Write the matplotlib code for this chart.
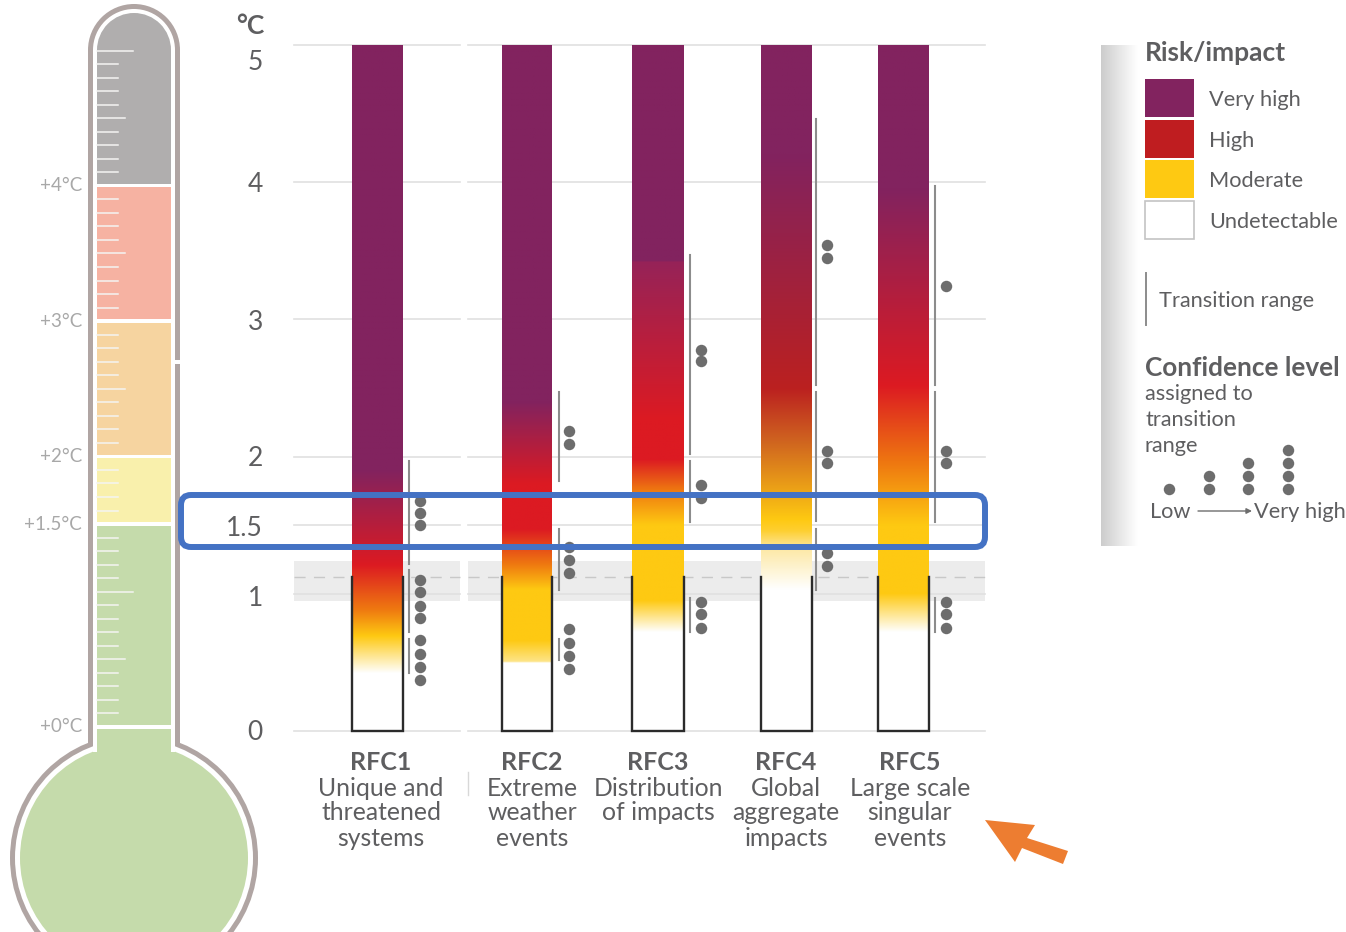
import numpy as np
import matplotlib
matplotlib.use('Agg')
import matplotlib.pyplot as plt
from matplotlib.colors import to_rgb
from matplotlib.patches import Circle, Rectangle, FancyBboxPatch, Polygon

plt.rcParams['font.family'] = ['Lato', 'DejaVu Sans']

W, H = 1346, 932
PURPLE = '#82235f'
RED = '#dc1a22'
ORANGE = '#ef7a10'
YELLOW = '#fec912'
TEXT = '#5e5e60'
DOT = '#6d6d6d'

# ----- data -----
rfc_names = ['RFC1', 'RFC2', 'RFC3', 'RFC4', 'RFC5']
rfc_lines = [['Unique and', 'threatened', 'systems'],
             ['Extreme', 'weather', 'events'],
             ['Distribution', 'of impacts'],
             ['Global', 'aggregate', 'impacts'],
             ['Large scale', 'singular', 'events']]
bar_left = [352, 502, 632, 761, 878]
bar_right = [403, 552, 684, 812, 929]
label_x = [381, 532, 658, 786, 910]
range_x = [409, 559, 690, 816, 935]
dot_x = [420, 569, 701, 827, 946]

# colour stops: temperature, colour
rfc1_t = [0.42, 0.69, 0.88, 1.21, 1.90, 5.0]
rfc1_c = ['#ffffff', YELLOW, ORANGE, RED, PURPLE, PURPLE]
rfc2_t = [0.50, 0.501, 0.66, 1.03, 1.21, 1.47, 1.80, 2.40, 5.0]
rfc2_c = ['#ffffff', '#fde58a', YELLOW, YELLOW, ORANGE, RED, RED, PURPLE, PURPLE]
rfc3_t = [0.72, 0.95, 1.50, 1.75, 1.98, 2.27, 3.42, 3.43, 5.0]
rfc3_c = ['#ffffff', YELLOW, YELLOW, ORANGE, RED, RED, '#962358', PURPLE, PURPLE]
rfc4_t = [1.03, 1.32, 1.46, 1.54, 2.10, 2.50, 4.20, 5.0]
rfc4_c = ['#ffffff', '#fde9a8', '#fecf30', YELLOW, '#d0661f', '#bb2020', PURPLE, PURPLE]
rfc5_t = [0.72, 1.00, 1.50, 1.94, 2.52, 3.95, 5.0]
rfc5_c = ['#ffffff', YELLOW, YELLOW, ORANGE, RED, PURPLE, PURPLE]
stops = [(rfc1_t, rfc1_c), (rfc2_t, rfc2_c), (rfc3_t, rfc3_c), (rfc4_t, rfc4_c), (rfc5_t, rfc5_c)]

# transition ranges (from, to) and confidence dots, in deg C
ranges = [[(1.22, 1.97), (0.72, 1.17), (0.42, 0.67)],
          [(1.82, 2.47), (1.03, 1.47), (0.52, 0.67)],
          [(2.02, 3.47), (1.52, 1.97), (0.72, 0.97)],
          [(2.52, 4.46), (1.53, 2.47), (1.03, 1.47)],
          [(2.52, 3.97), (1.52, 2.47), (0.72, 0.97)]]
dots = [[1.68, 1.59, 1.50, 1.10, 1.01, 0.91, 0.82, 0.66, 0.56, 0.47, 0.37],
        [2.19, 2.09, 1.34, 1.25, 1.15, 0.74, 0.64, 0.55, 0.45],
        [2.78, 2.70, 1.79, 1.70, 0.94, 0.85, 0.75],
        [3.54, 3.45, 2.04, 1.95, 1.30, 1.20],
        [3.24, 2.04, 1.95, 0.94, 0.85, 0.75]]

grid_levels = [0, 1, 1.5, 2, 3, 4, 5]
ytick_labels = ['0', '1', '1.5', '2', '3', '4', '5']
ytick_text_y = [733, 599, 528, 459, 322, 185, 63]

# thermometer, deg C
th_edges = [0, 1.5, 2, 3, 4, 5.6]
th_colors = ['#c5dbab', '#f9f0ac', '#f6d4a0', '#f6b2a2', '#b0aeae']
th_labels = ['+0°C', '+1.5°C', '+2°C', '+3°C', '+4°C']
th_long = [1.0, 5.0]
th_mid = [0.5, 2.5, 3.5, 4.5]
th_skip = [1.5, 2.0, 3.0, 4.0]

legend_names = ['Very high', 'High', 'Moderate', 'Undetectable']
legend_colors = ['#82235f', '#bf1d20', YELLOW, '#ffffff']
legend_dots = [1, 2, 3, 4]

# ----- axes -----
fig = plt.figure(figsize=(W / 100, H / 100), dpi=100)

# chart axes: x in pixels, y in deg C (0 at 731 px, 137.2 px per degree)
ax = fig.add_axes([0, 0, 1, 1], zorder=1)
# overlay in plain pixels for the thermometer outline, legend and text
px = fig.add_axes([0, 0, 1, 1], zorder=2)
# thermometer scale: 0 at 727 px, 135.3 px per degree
th = fig.add_axes([0, 0, 1, 1], zorder=3)
for a in (ax, px, th):
    a.axis('off')
    a.patch.set_alpha(0)

# ----- bars and grid -----
ax.axhspan(0.95, 1.24, xmin=294 / W, xmax=460 / W, color='#ececec', lw=0, zorder=0)
ax.axhspan(0.95, 1.24, xmin=468 / W, xmax=985 / W, color='#ececec', lw=0, zorder=0)
for segment in [(294, 460), (468, 985)]:
    for level in grid_levels:
        ax.plot(segment, [level, level], color='#e0e0e0', lw=1.2, zorder=1)
    ax.plot(segment, [1.12, 1.12], color='#c8c8c8', lw=1.0, dashes=(8, 6), zorder=1)

grid_t = np.linspace(0, 5, 800)
for i in range(5):
    rgb = np.array([to_rgb(c) for c in stops[i][1]])
    img = np.stack([np.interp(grid_t, stops[i][0], rgb[:, k]) for k in range(3)], axis=1)
    ax.imshow(img[:, None, :], origin='lower', aspect='auto', interpolation='bilinear',
              extent=(bar_left[i], bar_right[i], 0, 5), zorder=2)
    # black frame below the present-day level
    ax.plot([bar_left[i], bar_left[i], bar_right[i], bar_right[i]], [1.12, 0, 0, 1.12],
            color='#2b2b2b', lw=1.7, zorder=3, solid_joinstyle='miter')
    for low, high in ranges[i]:
        ax.plot([range_x[i], range_x[i]], [low, high], color='#8c8c8c', lw=1.5, zorder=3)
    ax.scatter([dot_x[i]] * len(dots[i]), dots[i], s=68, color=DOT, lw=0, zorder=3)

ax.set_xlim(0, W)
ax.set_ylim((731 - H) / 137.2, 731 / 137.2)

px.set_xlim(0, W)
px.set_ylim(H, 0)
th.set_xlim(0, W)
th.set_ylim((727 - H) / 135.3, 727 / 135.3)

# ----- thermometer outline -----
WALL = '#b0a5a3'
px.add_patch(Circle((134, 858), 124, color=WALL, lw=0, zorder=1))
px.add_patch(Circle((134, 858), 119, color='white', lw=0, zorder=1))
px.add_patch(Circle((134, 858), 114, color=th_colors[0], lw=0, zorder=1))
px.add_patch(Circle((134, 50), 46, color=WALL, lw=0, zorder=1))
px.add_patch(Circle((134, 50), 41, color='white', lw=0, zorder=1))
px.add_patch(Rectangle((88, 50), 92, 696, color=WALL, lw=0, zorder=2))
px.add_patch(Rectangle((93, 50), 82, 702, color='white', lw=0, zorder=2))
px.add_patch(Rectangle((97, 729), 74, 35, color=th_colors[0], lw=0, zorder=2))
px.add_patch(Rectangle((172, 360), 9, 4, color='white', lw=0, zorder=2))
px.add_patch(Circle((134, 50), 37, lw=0, color=th_colors[4], zorder=3))

# ----- thermometer bands and ticks -----
for i in range(5):
    low = th_edges[i] + 0.012
    high = th_edges[i + 1] - 0.012
    if i == 4:
        high = 5.0
    th.add_patch(Rectangle((97, low), 74, high - low, color=th_colors[i], lw=0, zorder=1))

for tenth in range(1, 51):
    t = tenth / 10
    if t in th_skip:
        continue
    length = 21
    if t in th_long:
        length = 36
    elif t in th_mid:
        length = 28
    th.plot([97, 97 + length], [t, t], color='#f4f4f2', lw=1.1, zorder=2)

for t, s in zip(th_edges[:5], th_labels):
    th.text(82, t, s, ha='right', va='center', fontsize=13.5, color='#a8a8a8')

# ----- axis text -----
px.text(264, 26, '°C', ha='right', va='center', fontsize=19, color=TEXT, fontweight='bold')
for s, y in zip(ytick_labels, ytick_text_y):
    px.text(263, y, s, ha='right', va='center', fontsize=19, color=TEXT)

for i in range(5):
    px.text(label_x[i], 762, rfc_names[i], ha='center', va='center', fontsize=18,
            color=TEXT, fontweight='bold')
    for k, line in enumerate(rfc_lines[i]):
        px.text(label_x[i], 788 + 25 * k, line, ha='center', va='center', fontsize=17.8, color=TEXT)
px.plot([468, 468], [772, 795], color='#d8d8d8', lw=1)

# ----- legend -----
strip = np.linspace(0.8, 1, 100)[None, :]
px.imshow(strip, cmap='gray', vmin=0, vmax=1, aspect='auto', extent=(1101, 1138, 546, 45), zorder=1)
px.set_xlim(0, W)
px.set_ylim(H, 0)

px.text(1145, 53, 'Risk/impact', ha='left', va='center', fontsize=19, color=TEXT, fontweight='bold')
swatch_top = [79, 120, 160, 201]
for i in range(4):
    edge = '#c4c4c4' if i == 3 else 'none'
    px.add_patch(Rectangle((1144.5, swatch_top[i]), 49, 38, facecolor=legend_colors[i],
                           edgecolor=edge, lw=1.2))
    px.text(1209, swatch_top[i] + 21, legend_names[i], ha='left', va='center', fontsize=15.7, color=TEXT)

px.plot([1145.5, 1145.5], [273, 325], color='#8c8c8c', lw=1.4)
px.text(1159, 301, 'Transition range', ha='left', va='center', fontsize=15.7, color=TEXT)
px.text(1145, 368, 'Confidence level', ha='left', va='center', fontsize=18.8, color=TEXT, fontweight='bold')
for y, s in zip([394, 420, 446], ['assigned to', 'transition', 'range']):
    px.text(1145, y, s, ha='left', va='center', fontsize=15.7, color=TEXT)

for n, x in zip(legend_dots, [1169, 1209, 1248, 1288]):
    px.scatter([x] * n, [489 - 13 * k for k in range(n)], s=68, color=DOT, lw=0)
px.text(1150, 512, 'Low', ha='left', va='center', fontsize=15.7, color=TEXT)
px.text(1254, 512, 'Very high', ha='left', va='center', fontsize=15.7, color=TEXT)
px.annotate('', xy=(1252, 511), xytext=(1198, 511),
            arrowprops=dict(arrowstyle='-|>', color='#6d6d6d', lw=1, mutation_scale=8, shrinkA=0, shrinkB=0))

# ----- highlight box and arrow -----
px.add_patch(FancyBboxPatch((190, 504), 786, 34, boxstyle='round,pad=9,rounding_size=10',
                            fill=False, edgecolor='#4472c4', lw=4.3, zorder=8))
px.add_patch(Polygon([(985, 820), (1035, 825), (1027, 838), (1068, 851), (1063, 864),
                      (1022, 848), (1015, 862)], closed=True, color='#ed7d31', lw=0, zorder=8))

fig.savefig('out.png', dpi=100)
